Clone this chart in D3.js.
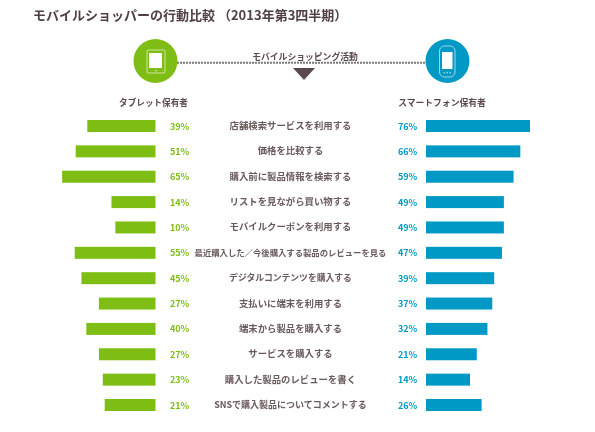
<!DOCTYPE html>
<html><head><meta charset="utf-8">
<script src="https://cdn.jsdelivr.net/npm/d3@7"></script>
<style>html,body{margin:0;padding:0;background:#fff}svg{display:block;filter:blur(.4px)}text{font-family:"Noto Sans CJK JP","Noto Sans",sans-serif}</style>
</head><body><svg id="c" width="595" height="432"></svg>
<script>
const titleText = "モバイルショッパーの行動比較 （2013年第3四半期）";
const headerText = "モバイルショッピング活動";
const leftHeader = "タブレット保有者";
const rightHeader = "スマートフォン保有者";
const activities = ["店舗検索サービスを利用する","価格を比較する","購入前に製品情報を検索する","リストを見ながら買い物する","モバイルクーポンを利用する","最近購入した／今後購入する製品のレビューを見る","デジタルコンテンツを購入する","支払いに端末を利用する","端末から製品を購入する","サービスを購入する","購入した製品のレビューを書く","SNSで購入製品についてコメントする"];
const tablet = [39,51,65,14,10,55,45,27,40,27,23,21];
const smartphone = [76,66,59,49,49,47,39,37,32,21,14,26];
// the source's bars start from a non-zero baseline; its 55% bar is drawn shorter than its label
const tabletBars = [39,51,65,14,10,52,45,27,40,27,23,21];

const GREEN="#7dbd14", BLUE="#0099c6", TEXT="#5b4a4c";
const svg=d3.select("#c");
const y=d3.scalePoint().domain(activities).range([126,405]);
const w=d3.scaleLinear().domain([-31.5,76]).range([0,104]);
const leftEdge=155.5, rightEdge=426;
const labelSize=d=>d.length>20?8.35:d.startsWith("デジタル")?8.8:d.startsWith("SNS")?9:9.4;

svg.append("text").attr("x",33).attr("y",19.7).attr("font-size",13).attr("font-weight",700).attr("fill","#4f3f42").text(titleText);

svg.append("line").attr("x1",177).attr("x2",426).attr("y1",62.7).attr("y2",62.7).attr("stroke","#7a7a7a").attr("stroke-width",2).attr("stroke-dasharray","2 1");
svg.append("text").attr("x",305).attr("y",60).attr("text-anchor","middle").attr("font-size",8.8).attr("font-weight",700).attr("fill",TEXT).text(headerText);
svg.append("path").attr("d",d3.line()([[293,68],[315,68],[304,80]])).attr("fill",TEXT);

// tablet icon
svg.append("circle").attr("cx",155.5).attr("cy",61).attr("r",22).attr("fill",GREEN);
svg.append("rect").attr("x",147).attr("y",50).attr("width",18).attr("height",23).attr("rx",1).attr("fill","none").attr("stroke","#cfe69f").attr("stroke-width",1);
svg.append("rect").attr("x",149).attr("y",53).attr("width",13).attr("height",15).attr("fill","#fff");
svg.append("circle").attr("cx",156).attr("cy",70.7).attr("r",.8).attr("fill","#e6f2cc");
// phone icon
svg.append("circle").attr("cx",447.5).attr("cy",61).attr("r",22).attr("fill",BLUE);
svg.append("rect").attr("x",439.5).attr("y",46).attr("width",15.5).attr("height",31).attr("rx",5).attr("fill","none").attr("stroke","#9fd8ea").attr("stroke-width",1);
svg.append("rect").attr("x",442).attr("y",52).attr("width",10.5).attr("height",17).attr("rx",.5).attr("fill","#fff");
svg.selectAll("circle.key").data([-3,0,3]).join("circle").attr("class","key").attr("cx",d=>447.2+d).attr("cy",72.8).attr("r",.7).attr("fill","#d5eef6");

svg.append("text").attr("x",153.5).attr("y",106).attr("text-anchor","middle").attr("font-size",8.6).attr("font-weight",700).attr("fill",TEXT).text(leftHeader);
svg.append("text").attr("x",442).attr("y",106).attr("text-anchor","middle").attr("font-size",8.8).attr("font-weight",700).attr("fill",TEXT).text(rightHeader);

const rows=svg.selectAll("g.row").data(activities).join("g").attr("class","row").attr("transform",d=>`translate(0,${y(d)})`);
rows.append("rect").attr("x",(d,i)=>leftEdge-w(tabletBars[i])).attr("y",-6).attr("height",12).attr("width",(d,i)=>w(tabletBars[i])).attr("fill",GREEN);
rows.append("rect").attr("x",rightEdge).attr("y",-6).attr("height",12).attr("width",(d,i)=>w(smartphone[i])).attr("fill",BLUE);
rows.append("text").attr("x",170).attr("y",3.5).attr("font-size",9).attr("font-weight",700).attr("fill",GREEN).text((d,i)=>tablet[i]+"%");
rows.append("text").attr("x",398).attr("y",3.5).attr("font-size",9).attr("font-weight",700).attr("fill",BLUE).text((d,i)=>smartphone[i]+"%");
rows.append("text").attr("x",290.5).attr("y",3).attr("text-anchor","middle").attr("font-size",labelSize).attr("font-weight",700).attr("fill","#6a5a5c").text(d=>d);
</script></body></html>
